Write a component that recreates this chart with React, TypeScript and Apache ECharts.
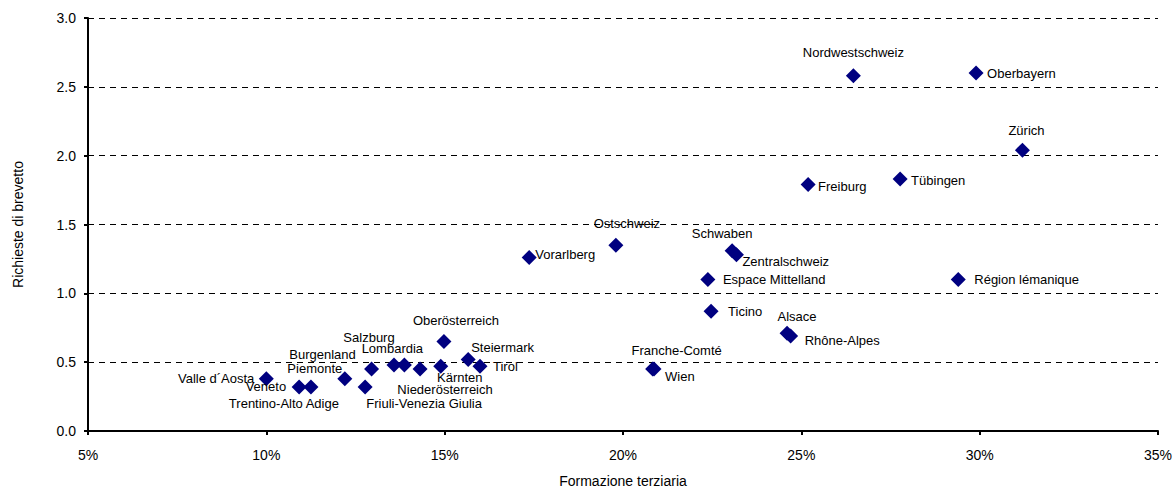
import React, { useEffect, useRef } from "react";
import * as echarts from "echarts";

const regions = [
  "Valle d´Aosta", "Veneto", "Trentino-Alto Adige", "Piemonte", "Burgenland",
  "Friuli-Venezia Giulia", "Salzburg", "Lombardia", "Niederösterreich", "Kärnten",
  "Oberösterreich", "Steiermark", "Tirol", "Vorarlberg", "Ostschweiz",
  "Schwaben", "Zentralschweiz", "Espace Mittelland", "Ticino", "Alsace",
  "Rhône-Alpes", "Franche-Comté", "Wien", "Nordwestschweiz", "Oberbayern",
  "Zürich", "Tübingen", "Freiburg", "Région lémanique",
];
const tertiaryEducation = [
  10.0, 10.92, 11.25, 12.2, 12.95,
  12.77, 13.58, 13.87, 14.31, 14.89,
  14.98, 15.66, 15.99, 17.37, 19.8,
  23.06, 23.18, 22.38, 22.47, 24.6,
  24.7, 20.83, 20.87, 26.46, 29.9,
  31.2, 27.77, 25.19, 29.4,
];
const patentApplications = [
  0.38, 0.32, 0.32, 0.38, 0.45,
  0.32, 0.48, 0.48, 0.45, 0.47,
  0.65, 0.52, 0.47, 1.26, 1.35,
  1.31, 1.28, 1.10, 0.87, 0.71,
  0.69, 0.45, 0.45, 2.58, 2.60,
  2.04, 1.83, 1.79, 1.10,
];
const xTicks = { min: 5, max: 35, interval: 5 };
const yTicks = { min: 0, max: 3, interval: 0.5 };

// label placement: [align, dx, dy] relative to the marker centre
const labelPlacement: Record<string, [string, number, number]> = {
  "Valle d´Aosta": ["right", -12, 0],
  "Veneto": ["right", -13, 0],
  "Trentino-Alto Adige": ["center", -27, 17],
  "Piemonte": ["center", -30, -10],
  "Burgenland": ["center", -49, -15],
  "Friuli-Venezia Giulia": ["center", 59, 17],
  "Salzburg": ["center", -25, -27],
  "Lombardia": ["center", -12, -16],
  "Niederösterreich": ["center", 25, 20],
  "Kärnten": ["center", 19, 11],
  "Oberösterreich": ["center", 12, -21],
  "Steiermark": ["left", 3, -12],
  "Tirol": ["left", 13, 0],
  "Vorarlberg": ["left", 6, -3],
  "Ostschweiz": ["center", 11, -22],
  "Schwaben": ["center", -10, -17],
  "Zentralschweiz": ["left", 6, 7],
  "Espace Mittelland": ["left", 15, 0],
  "Ticino": ["left", 17, 0],
  "Alsace": ["center", 10, -17],
  "Rhône-Alpes": ["left", 14, 4],
  "Franche-Comté": ["center", 24, -19],
  "Wien": ["left", 11, 7],
  "Nordwestschweiz": ["center", 0, -23],
  "Oberbayern": ["left", 11, 0],
  "Zürich": ["center", 4, -20],
  "Tübingen": ["left", 11, 1],
  "Freiburg": ["left", 10, 2],
  "Région lémanique": ["left", 16, 0],
};

const FONT = "'Liberation Sans', Arial, sans-serif";

export default function App() {
  const ref = useRef<HTMLDivElement>(null);
  useEffect(() => {
    document.body.style.margin = "0";
    if (!ref.current) return;
    const chart = echarts.init(ref.current, undefined, { renderer: "svg" });
    const data = regions.map((name, i) => ({
      name,
      value: [tertiaryEducation[i], patentApplications[i]],
    }));
    chart.setOption({
      animation: false,
      textStyle: { fontFamily: FONT },
      grid: { left: 88, right: 17, top: 18, bottom: 59, containLabel: false },
      xAxis: {
        type: "value",
        min: xTicks.min,
        max: xTicks.max,
        interval: xTicks.interval,
        name: "Formazione terziaria",
        nameLocation: "middle",
        nameGap: 43,
        nameTextStyle: { color: "#000", fontSize: 14, fontFamily: FONT },
        axisLine: { show: true, onZero: false, lineStyle: { color: "#000", width: 2 } },
        axisTick: { show: true, length: 4, lineStyle: { color: "#000", width: 2 } },
        axisLabel: { color: "#000", fontSize: 14, margin: 17, formatter: "{value}%", fontFamily: FONT },
        splitLine: { show: false },
      },
      yAxis: {
        type: "value",
        min: yTicks.min,
        max: yTicks.max,
        interval: yTicks.interval,
        name: "Richieste di brevetto",
        nameLocation: "middle",
        nameGap: 63,
        nameRotate: 90,
        nameTextStyle: { color: "#000", fontSize: 14, fontFamily: FONT },
        axisLine: { show: true, lineStyle: { color: "#000", width: 2 } },
        axisTick: { show: true, length: 4, lineStyle: { color: "#000", width: 2 } },
        axisLabel: {
          color: "#000",
          fontSize: 14,
          margin: 12,
          formatter: (v: number) => v.toFixed(1),
          fontFamily: FONT,
        },
        splitLine: { show: true, lineStyle: { color: "#000", width: 1, type: [6, 5] } },
      },
      series: [
        {
          type: "scatter",
          symbol: "diamond",
          symbolSize: 15,
          itemStyle: { color: "#000080", opacity: 1 },
          label: {
            show: true,
            position: "inside",
            formatter: "{b}",
            color: "#000",
            fontSize: 13,
            fontFamily: FONT,
          },
          labelLayout: (params: any) => {
            const name = regions[params.dataIndex];
            const p = labelPlacement[name] || ["left", 10, 0];
            const r = params.rect;
            return {
              x: r.x + r.width / 2 + p[1],
              y: r.y + r.height / 2 + p[2],
              align: p[0],
              verticalAlign: "middle",
              hideOverlap: false,
              moveOverlap: false,
            };
          },
          data,
        },
      ],
    });
    return () => chart.dispose();
  }, []);
  return <div ref={ref} style={{ width: 1175, height: 493 }} />;
}
